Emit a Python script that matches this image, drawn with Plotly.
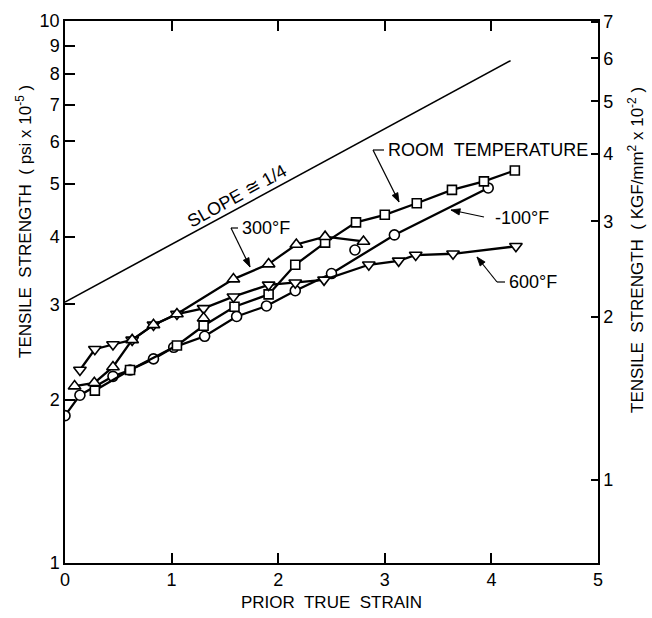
import math
import plotly.graph_objects as go

# ---- data ----
room_x = [0.28, 0.61, 1.05, 1.30, 1.59, 1.91, 2.16, 2.44, 2.73, 3.00, 3.30, 3.63, 3.93, 4.22]
room_y = [2.08, 2.27, 2.52, 2.74, 2.97, 3.13, 3.55, 3.90, 4.25, 4.39, 4.61, 4.88, 5.06, 5.30]

f300_x = [0.09, 0.275, 0.45, 0.63, 0.83, 1.05, 1.58, 1.91, 2.17, 2.44, 2.80]
f300_y = [2.12, 2.15, 2.30, 2.58, 2.75, 2.88, 3.34, 3.56, 3.87, 4.00, 3.92]

f600_x = [0.14, 0.28, 0.45, 0.63, 0.83, 1.05, 1.30, 1.58, 1.91, 2.16, 2.43, 2.85, 3.13, 3.29, 3.64, 4.23]
f600_y = [2.27, 2.48, 2.53, 2.58, 2.75, 2.88, 2.95, 3.10, 3.26, 3.29, 3.33, 3.55, 3.61, 3.70, 3.72, 3.84]

m100_x = [0.0, 0.14, 0.45, 0.61, 0.83, 1.02, 1.31, 1.61, 1.89, 2.16, 2.50, 3.09, 3.97]
m100_y = [1.87, 2.04, 2.21, 2.27, 2.38, 2.50, 2.62, 2.85, 2.98, 3.18, 3.42, 4.03, 4.92]

extra_tri_x = [1.30]
extra_tri_y = [2.83]
extra_circ_x = [2.72]
extra_circ_y = [3.78]

slope_x = [0.0, 4.18]
slope_y = [3.03, 8.45]

x_ticks = [0, 1, 2, 3, 4, 5]
y_ticks = [1, 2, 3, 4, 5, 6, 7, 8, 9, 10]
y2_ticks = [1, 2, 3, 4, 5, 6, 7]
KGF_PER_PSI5 = 0.7031  # 1e5 psi -> kgf/mm^2 x 1e-2

# ---- layout geometry ----
W, H = 652, 618
ML, MR, MT, MB = 65, 54, 21, 55
PW, PH = W - ML - MR, H - MT - MB
FONT = "Liberation Sans"

def px_x(px):
    return (px - ML) / PW

def px_y(py):
    return (H - MB - py) / PH

fig = go.Figure()

line_style = dict(color="black", width=2.3)
mk_common = dict(color="white", line=dict(color="black", width=1.6))

fig.add_trace(go.Scatter(x=slope_x, y=slope_y, mode="lines",
                         line=dict(color="black", width=1.6), showlegend=False, hoverinfo="skip"))
fig.add_trace(go.Scatter(x=m100_x, y=m100_y, mode="lines+markers", line=line_style,
                         marker=dict(symbol="circle", size=10, **mk_common), showlegend=False))
fig.add_trace(go.Scatter(x=room_x, y=room_y, mode="lines+markers", line=line_style,
                         marker=dict(symbol="square", size=9, **mk_common), showlegend=False))
fig.add_trace(go.Scatter(x=f600_x, y=f600_y, mode="lines+markers", line=line_style,
                         marker=dict(symbol="triangle-down", size=11, **mk_common), showlegend=False))
fig.add_trace(go.Scatter(x=f300_x, y=f300_y, mode="lines+markers", line=line_style,
                         marker=dict(symbol="triangle-up", size=11, **mk_common), showlegend=False))
fig.add_trace(go.Scatter(x=extra_tri_x, y=extra_tri_y, mode="markers",
                         marker=dict(symbol="triangle-up", size=11, **mk_common), showlegend=False))
fig.add_trace(go.Scatter(x=extra_circ_x, y=extra_circ_y, mode="markers",
                         marker=dict(symbol="circle", size=10, **mk_common), showlegend=False))
# invisible trace to anchor the right-hand axis
fig.add_trace(go.Scatter(x=[x_ticks[0]], y=[y2_ticks[0]], yaxis="y2", mode="markers",
                         marker=dict(opacity=0), showlegend=False, hoverinfo="skip"))

tfont = dict(family=FONT, size=18, color="black")
afont = dict(family=FONT, size=17, color="black")

annotations = []
shapes = []

def text_at(text, px, py, xanchor="center", angle=0, font=tfont):
    annotations.append(dict(xref="paper", yref="paper", x=px_x(px), y=px_y(py),
                            text=text, showarrow=False, xanchor=xanchor, yanchor="middle",
                            textangle=angle, font=font))

def seg(p0, p1, width=1.2):
    shapes.append(dict(type="line", xref="paper", yref="paper",
                       x0=px_x(p0[0]), y0=px_y(p0[1]), x1=px_x(p1[0]), y1=px_y(p1[1]),
                       line=dict(color="black", width=width)))

def arrow(tail, tip, head_len=9, head_w=3.2):
    seg(tail, tip)
    dx, dy = tip[0] - tail[0], tip[1] - tail[1]
    L = math.hypot(dx, dy)
    ux, uy = dx / L, dy / L
    nx, ny = -uy, ux
    bx, by = tip[0] - head_len * ux, tip[1] - head_len * uy
    pts = [tip, (bx + head_w * nx, by + head_w * ny), (bx - head_w * nx, by - head_w * ny)]
    path = "M " + " L ".join(f"{px_x(p[0]):.5f},{px_y(p[1]):.5f}" for p in pts) + " Z"
    shapes.append(dict(type="path", xref="paper", yref="paper", path=path,
                       fillcolor="black", line=dict(color="black", width=0.8)))

# 300°F
text_at("300°F", 240, 228, xanchor="left")
seg((231, 228), (238, 228))
arrow((231, 228), (250, 267))
# ROOM TEMPERATURE
text_at("ROOM  TEMPERATURE", 386, 150, xanchor="left")
seg((373, 150), (384, 150))
arrow((373, 150), (399, 202))
# 600°F
text_at("600°F", 507, 282, xanchor="left")
seg((497, 282), (505, 282))
arrow((497, 282), (477, 257))
# -100°F
text_at("-100°F", 493, 218, xanchor="left")
arrow((484, 217), (451, 210))

# slope label
text_at("SLOPE ≅ 1/4", 237, 196, angle=-29)

# axis titles
text_at("TENSILE  STRENGTH  ( psi x 10<sup>-5</sup> )", 24, 222, angle=-90, font=afont)
text_at("TENSILE  STRENGTH  ( KGF/mm<sup>2</sup> x 10<sup>-2</sup> )", 636, 250, angle=-90, font=afont)
text_at("PRIOR  TRUE  STRAIN", 331, 602, font=afont)

fig.update_layout(
    width=W, height=H,
    margin=dict(l=ML, r=MR, t=MT, b=MB, pad=0),
    paper_bgcolor="white", plot_bgcolor="white",
    showlegend=False,
    font=tfont,
    annotations=annotations,
    shapes=shapes,
    xaxis=dict(range=[0, 5], tickvals=x_ticks, ticktext=[str(v) for v in x_ticks],
               ticks="inside", ticklen=10, tickwidth=1.5, tickcolor="black",
               showline=True, linewidth=1.5, linecolor="black", mirror="ticks",
               showgrid=False, zeroline=False, tickfont=tfont),
    yaxis=dict(type="log", range=[0, 1], tickvals=y_ticks, ticktext=[str(v) for v in y_ticks],
               ticks="inside", ticklen=10, tickwidth=1.5, tickcolor="black",
               showline=True, linewidth=1.5, linecolor="black",
               showgrid=False, zeroline=False, tickfont=tfont),
    yaxis2=dict(type="log", overlaying="y", side="right",
                range=[math.log10(KGF_PER_PSI5 * 1), math.log10(KGF_PER_PSI5 * 10)],
                tickvals=y2_ticks, ticktext=[str(v) for v in y2_ticks],
                ticks="inside", ticklen=7, tickwidth=1.5, tickcolor="black",
                showline=True, linewidth=1.5, linecolor="black",
                showgrid=False, zeroline=False, tickfont=tfont),
)

fig.write_html("out.html")
